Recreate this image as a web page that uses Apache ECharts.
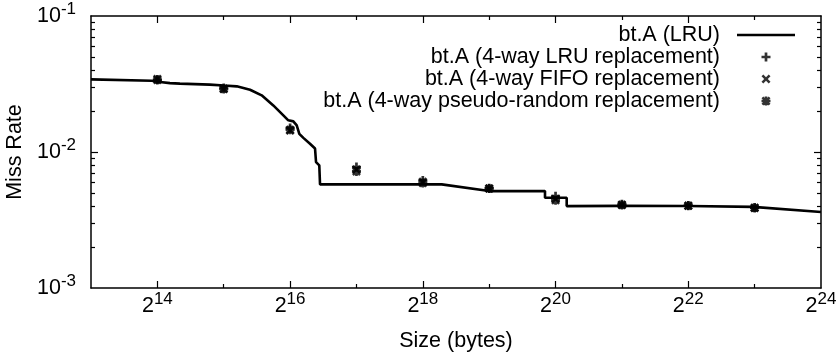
<!DOCTYPE html>
<html>
<head>
<meta charset="utf-8">
<title>bt.A miss rate</title>
<script src="https://cdn.jsdelivr.net/npm/echarts@6/dist/echarts.min.js"></script>
<style>
  html, body { margin: 0; padding: 0; background: #fff; }
  #chart { width: 840px; height: 360px; }
</style>
</head>
<body>
<div id="chart"></div>
<script>
// Fully associative LRU curve: cache size in bytes and miss rate
const lruSizes = [8192, 15446, 16845, 18690, 20739, 28330, 32768, 37543, 43123, 48709,
  54988, 61074, 64324, 67797, 70240, 72162, 75281, 80684, 85046, 85937, 88906,
  89588, 89588, 319423, 524288, 939160, 939160, 1178070, 1178070, 2097152,
  4194304, 8251000, 16777216];
const lruRates = [0.0342, 0.0334, 0.0327, 0.0321, 0.0318, 0.0313, 0.0308, 0.0304, 0.0287, 0.0261,
  0.0220, 0.0186, 0.0171, 0.0168, 0.0157, 0.0136, 0.0127, 0.0115, 0.0106, 0.00843, 0.00797,
  0.00797, 0.00578, 0.00578, 0.00516, 0.00516, 0.00461, 0.00461, 0.00400, 0.00402,
  0.00401, 0.00395, 0.00362];

// 4-way set associative simulations, one point per power-of-two size
const wayedSizes = [16384, 32768, 65536, 131072, 262144, 524288, 1048576, 2097152, 4194304, 8388608];
const lru4Rates  = [0.0341, 0.0295, 0.0150, 0.00775, 0.00617, 0.00542, 0.00473, 0.00413, 0.00404, 0.00390];
const fifo4Rates = [0.0344, 0.0292, 0.0144, 0.00745, 0.00605, 0.00538, 0.00452, 0.00410, 0.00402, 0.00389];
const rand4Rates = [0.0338, 0.0290, 0.0146, 0.00720, 0.00592, 0.00540, 0.00441, 0.00408, 0.00403, 0.00388];

// Axis ticks and labels
const xMajor = [16384, 65536, 262144, 1048576, 4194304];
const xMinor = [32768, 131072, 524288, 2097152, 8388608];
const xLabels = [16384, 65536, 262144, 1048576, 4194304, 16777216];
const yMajor = [0.01];
const yMinor = [0.002, 0.003, 0.004, 0.005, 0.006, 0.007, 0.008, 0.009,
  0.02, 0.03, 0.04, 0.05, 0.06, 0.07, 0.08, 0.09];
const yLabels = [0.001, 0.01, 0.1];

const FONT = 'Liberation Sans';
const FS = 21.5;
const plusPath = 'path://M3.5,0H6.5V3.5H10V6.5H6.5V10H3.5V6.5H0V3.5H3.5Z';
const crossPath = 'path://M0,2L2,0L5,3L8,0L10,2L7,5L10,8L8,10L5,7L2,10L0,8L3,5Z';
const starPath = 'path://M3.5,0H6.5V3.5H10V6.5H6.5V10H3.5V6.5H0V3.5H3.5Z' +
  'M0,2L2,0L5,3L8,0L10,2L7,5L10,8L8,10L5,7L2,10L0,8L3,5Z';
const lineIcon = 'path://M0,0H58V2.6H0Z';

const rich = {
  b: { fontFamily: FONT, fontSize: FS, lineHeight: 22, color: '#000' },
  e: { fontFamily: FONT, fontSize: 17, lineHeight: 17, color: '#000', padding: [0, 0, 14, 0] }
};

function xAxisDef(pos, ticks, len, withLine, withLabels) {
  return {
    type: 'log', logBase: 2, min: 8192, max: 16777216, position: pos,
    axisLine: { show: withLine, lineStyle: { color: '#000', width: 1.5 } },
    axisTick: { show: true, inside: true, length: len, customValues: ticks,
      lineStyle: { color: '#000', width: 1.2 } },
    axisLabel: withLabels ? {
      show: true, margin: 7, customValues: xLabels,
      formatter: function (v) { return '{b|2}{e|' + Math.round(Math.log2(v)) + '}'; },
      rich: rich
    } : { show: false },
    splitLine: { show: false }, minorTick: { show: false }
  };
}

function yAxisDef(pos, ticks, len, withLine, withLabels) {
  return {
    type: 'log', logBase: 10, min: 0.001, max: 0.1, position: pos,
    axisLine: { show: withLine, lineStyle: { color: '#000', width: 1.5 } },
    axisTick: { show: true, inside: true, length: len, customValues: ticks,
      lineStyle: { color: '#000', width: 1.2 } },
    axisLabel: withLabels ? {
      show: true, margin: 15, customValues: yLabels,
      formatter: function (v) { return '{b|10}{e|' + Math.round(Math.log10(v)) + '}'; },
      rich: rich
    } : { show: false },
    splitLine: { show: false }, minorTick: { show: false }
  };
}

const xAxes = [
  xAxisDef('bottom', xMajor, 7, true, true),
  xAxisDef('bottom', xMinor, 4, false, false),
  xAxisDef('top', xMajor, 7, true, false),
  xAxisDef('top', xMinor, 4, false, false)
];
xAxes[0].name = 'Size (bytes)';
xAxes[0].nameLocation = 'middle';
xAxes[0].nameGap = 42;
xAxes[0].nameTextStyle = { fontFamily: FONT, fontSize: FS, color: '#000' };

const yAxes = [
  yAxisDef('left', yMajor, 7, true, true),
  yAxisDef('left', yMinor, 4, false, false),
  yAxisDef('right', yMajor, 7, true, false),
  yAxisDef('right', yMinor, 4, false, false)
];
yAxes[0].name = 'Miss Rate';
yAxes[0].nameLocation = 'middle';
yAxes[0].nameGap = 64;
yAxes[0].nameTextStyle = { fontFamily: FONT, fontSize: FS, color: '#000' };

function pairs(xs, ys) { return xs.map(function (x, i) { return [x, ys[i]]; }); }

function scatterSeries(name, symbol, ys) {
  return {
    name: name, type: 'scatter', xAxisIndex: 0, yAxisIndex: 0,
    symbol: symbol, symbolSize: 9,
    itemStyle: { color: '#000' },
    data: pairs(wayedSizes, ys), z: 3
  };
}

const chart = echarts.init(document.getElementById('chart'), null, { renderer: 'canvas' });
chart.setOption({
  animation: false,
  backgroundColor: '#fff',
  textStyle: { fontFamily: FONT },
  grid: { left: 91, right: 19, top: 16, bottom: 72, containLabel: false, outerBoundsMode: 'none' },
  legend: {
    orient: 'vertical', align: 'right', right: 45, top: 24, padding: 0,
    itemWidth: 58, itemHeight: 9, itemGap: 0,
    symbolKeepAspect: true,
    textStyle: { fontFamily: FONT, fontSize: FS, color: '#000', lineHeight: 21.7, padding: [0, 12, 0, 0] },
    data: [
      { name: 'bt.A (LRU)', icon: lineIcon },
      'bt.A (4-way LRU replacement)',
      'bt.A (4-way FIFO replacement)',
      'bt.A (4-way pseudo-random replacement)'
    ]
  },
  xAxis: xAxes,
  yAxis: yAxes,
  series: [
    {
      name: 'bt.A (LRU)', type: 'line', xAxisIndex: 0, yAxisIndex: 0,
      showSymbol: false, symbol: 'none',
      lineStyle: { color: '#000', width: 2.6 }, itemStyle: { color: '#000' },
      data: pairs(lruSizes, lruRates), z: 2
    },
    scatterSeries('bt.A (4-way LRU replacement)', plusPath, lru4Rates),
    scatterSeries('bt.A (4-way FIFO replacement)', crossPath, fifo4Rates),
    scatterSeries('bt.A (4-way pseudo-random replacement)', starPath, rand4Rates)
  ]
});
</script>
</body>
</html>
